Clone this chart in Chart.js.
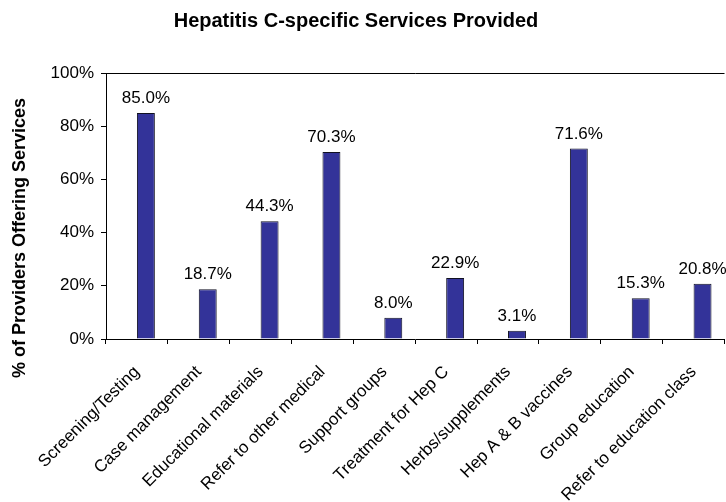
<!DOCTYPE html>
<html>
<head>
<meta charset="utf-8">
<script src="https://cdn.jsdelivr.net/npm/chart.js@4.4.1/dist/chart.umd.min.js"></script>
<style>
  html, body { margin: 0; padding: 0; background: #fff; }
  #wrap { width: 726px; height: 502px; }
</style>
</head>
<body>
<div id="wrap"><canvas id="c" width="726" height="502"></canvas></div>
<script>
// Services offered by providers, share of providers (%)
const categories = [
  'Screening/Testing', 'Case management', 'Educational materials',
  'Refer to other medical', 'Support groups', 'Treatment for Hep C',
  'Herbs/supplements', 'Hep A & B vaccines', 'Group education',
  'Refer to education class'
];
const percentOffering = [85.0, 18.7, 44.3, 70.3, 8.0, 22.9, 3.1, 71.6, 15.3, 20.8];
const yTicks = [0, 20, 40, 60, 80, 100];
const chartTitle = 'Hepatitis C-specific Services Provided';
const yAxisTitle = '% of Providers Offering Services';

const FONT = 'Liberation Sans, Arial, sans-serif';

// Chart heading and rotated y-axis caption
const headings = {
  id: 'headings',
  afterDraw(chart) {
    const { ctx } = chart;
    ctx.save();
    ctx.fillStyle = '#000';
    ctx.textAlign = 'center';
    ctx.textBaseline = 'alphabetic';
    ctx.font = 'bold 20px ' + FONT;
    ctx.fillText(chartTitle, 356, 27);
    ctx.translate(25, 238);
    ctx.rotate(-Math.PI / 2);
    ctx.font = 'bold 18px ' + FONT;
    ctx.fillText(yAxisTitle, 0, 0);
    ctx.restore();
  }
};

// Value labels above each bar
const valueLabels = {
  id: 'valueLabels',
  afterDatasetsDraw(chart) {
    const { ctx } = chart;
    const meta = chart.getDatasetMeta(1);
    ctx.save();
    ctx.font = '17px ' + FONT;
    ctx.fillStyle = '#000';
    ctx.textAlign = 'center';
    ctx.textBaseline = 'alphabetic';
    meta.data.forEach((bar, i) => {
      ctx.fillText(percentOffering[i].toFixed(1) + '%', bar.x, bar.y - 10);
    });
    ctx.restore();
  }
};

// Top edge of the plot frame
const frameTop = {
  id: 'frameTop',
  beforeDatasetsDraw(chart) {
    const { ctx, chartArea } = chart;
    ctx.save();
    ctx.strokeStyle = '#000';
    ctx.lineWidth = 1;
    ctx.beginPath();
    ctx.moveTo(chartArea.left, Math.round(chartArea.top) + 0.5);
    ctx.lineTo(chartArea.right, Math.round(chartArea.top) + 0.5);
    ctx.stroke();
    ctx.restore();
  }
};

new Chart(document.getElementById('c'), {
  type: 'bar',
  data: {
    labels: categories,
    datasets: [
      {
        // empty first slot of each cluster, so the bar sits right of centre
        data: categories.map(() => null),
        backgroundColor: 'rgba(0,0,0,0)',
        borderWidth: 0
      },
      {
        data: percentOffering,
        backgroundColor: '#333399',
        borderColor: '#111122',
        borderWidth: 1
      }
    ]
  },
  options: {
    responsive: false,
    animation: false,
    devicePixelRatio: 1,
    datasets: { bar: { categoryPercentage: 0.58, barPercentage: 1.0 } },
    layout: { padding: { left: 0, right: 0, top: 73, bottom: 0 } },
    plugins: {
      legend: { display: false },
      tooltip: { enabled: false },
      title: { display: false }
    },
    scales: {
      x: {
        offset: true,
        grid: {
          display: true,
          offset: true,
          drawOnChartArea: false,
          drawTicks: true,
          tickLength: 5,
          color: '#000'
        },
        border: { display: true, color: '#000', width: 1 },
        ticks: {
          color: '#000',
          font: { family: FONT, size: 17 },
          minRotation: 45,
          maxRotation: 45,
          padding: 18,
          autoSkip: false
        },
        afterFit(scale) { scale.height = 163; }
      },
      y: {
        min: 0,
        max: 100,
        afterBuildTicks(scale) { scale.ticks = yTicks.map(v => ({ value: v })); },
        grid: {
          display: true,
          drawOnChartArea: false,
          drawTicks: true,
          tickLength: 5,
          color: '#000'
        },
        border: { display: true, color: '#000', width: 1 },
        ticks: {
          color: '#000',
          font: { family: FONT, size: 17 },
          padding: 7,
          callback: v => v + '%'
        },
        afterFit(scale) { scale.width = 106; }
      }
    }
  },
  plugins: [valueLabels, frameTop, headings]
});
</script>
</body>
</html>
